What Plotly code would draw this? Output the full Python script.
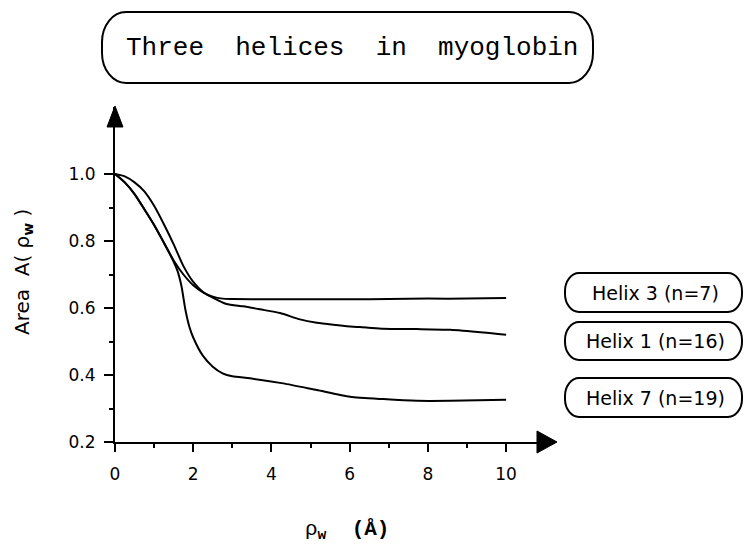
import plotly.graph_objects as go

# Normalised area A(rho_w) against probe radius rho_w (Angstrom)
helix1_x = [0, 0.25, 0.5, 0.75, 1.0, 1.25, 1.5, 1.75, 2.0, 2.25, 2.5, 2.85, 3.28,
            3.71, 4.22, 4.73, 5.16, 5.58, 6.01, 6.43, 6.86, 7.72, 8.57, 9.42, 10.0]
helix1_y = [1.0, 0.993, 0.975, 0.948, 0.905, 0.85, 0.79, 0.725, 0.678, 0.648, 0.631,
            0.612, 0.605, 0.596, 0.585, 0.566, 0.556, 0.55, 0.545, 0.542, 0.538,
            0.537, 0.535, 0.527, 0.52]

helix3_x = [0, 0.25, 0.5, 0.75, 1.0, 1.25, 1.5, 1.75, 2.0, 2.25, 2.5, 2.75, 3.0,
            4.0, 5.0, 6.0, 7.0, 8.0, 9.0, 10.0]
helix3_y = [1.0, 0.975, 0.94, 0.895, 0.848, 0.795, 0.742, 0.7, 0.668, 0.647, 0.634,
            0.628, 0.627, 0.626, 0.626, 0.626, 0.627, 0.628, 0.628, 0.63]

helix7_x = [0, 0.25, 0.5, 0.75, 1.0, 1.25, 1.5, 1.6, 1.7, 1.8, 1.9, 2.0, 2.25, 2.5,
            2.75, 3.0, 3.45, 4.3, 5.16, 6.01, 6.86, 7.72, 8.57, 10.0]
helix7_y = [1.0, 0.975, 0.94, 0.895, 0.848, 0.795, 0.738, 0.71, 0.665, 0.595, 0.545,
            0.512, 0.457, 0.425, 0.405, 0.396, 0.39, 0.375, 0.355, 0.335, 0.328,
            0.323, 0.323, 0.326]

series_labels = ["Helix 3 (n=7)", "Helix 1 (n=16)", "Helix 7 (n=19)"]

x_ticks = [0, 2, 4, 6, 8, 10]
x_minor = [1, 3, 5, 7, 9]
y_ticks = [0.2, 0.4, 0.6, 0.8, 1.0]
y_tick_text = ["0.2", "0.4", "0.6", "0.8", "1.0"]
y_minor = [0.3, 0.5, 0.7, 0.9]

title_text = "Three\u00a0\u00a0helices\u00a0\u00a0in\u00a0\u00a0myoglobin"

# Page geometry (pixels) of the plotting area
W_PAGE, H_PAGE = 744, 547
L, R, T, B = 115, 555, 107, 442
PW, PH = R - L, B - T


def to_paper(px, py):
    return (px - L) / PW, (B - py) / PH


def path_from_px(cmds):
    out = []
    for cmd, pts in cmds:
        s = cmd
        if pts:
            s += " ".join("%.5f,%.5f" % to_paper(*p) for p in pts)
        out.append(s)
    return " ".join(out)


def rounded_box(x0, y0, x1, y1, rx, ry):
    k = 0.5523
    return path_from_px([
        ("M", [(x0 + rx, y0)]),
        ("L", [(x1 - rx, y0)]),
        ("C", [(x1 - rx + k * rx, y0), (x1, y0 + ry - k * ry), (x1, y0 + ry)]),
        ("L", [(x1, y1 - ry)]),
        ("C", [(x1, y1 - ry + k * ry), (x1 - rx + k * rx, y1), (x1 - rx, y1)]),
        ("L", [(x0 + rx, y1)]),
        ("C", [(x0 + rx - k * rx, y1), (x0, y1 - ry + k * ry), (x0, y1 - ry)]),
        ("L", [(x0, y0 + ry)]),
        ("C", [(x0, y0 + ry - k * ry), (x0 + rx - k * rx, y0), (x0 + rx, y0)]),
        ("Z", []),
    ])


fig = go.Figure()
line_style = dict(color="black", width=2, shape="spline", smoothing=0.6)
for xs, ys, name in [(helix3_x, helix3_y, series_labels[0]),
                     (helix1_x, helix1_y, series_labels[1]),
                     (helix7_x, helix7_y, series_labels[2])]:
    fig.add_trace(go.Scatter(x=xs, y=ys, mode="lines", line=line_style,
                             name=name, showlegend=False, cliponaxis=False))

shapes = []
box_line = dict(color="black", width=2)
# title frame
shapes.append(dict(type="path", xref="paper", yref="paper",
                   path=rounded_box(102, 12, 593, 83, 24, 30), line=box_line))
# series label frames
label_boxes = [(273, 312), (322, 360), (378, 417)]
for (y0, y1) in label_boxes:
    shapes.append(dict(type="path", xref="paper", yref="paper",
                       path=rounded_box(565, y0, 742, y1, 14, 18), line=box_line))
# arrowheads at the axis ends
shapes.append(dict(type="path", xref="paper", yref="paper",
                   path=path_from_px([("M", [(L, T - 1)]), ("L", [(L - 8, T + 20)]),
                                      ("L", [(L + 8, T + 20)]), ("Z", [])]),
                   fillcolor="black", line=dict(color="black", width=1)))
shapes.append(dict(type="path", xref="paper", yref="paper",
                   path=path_from_px([("M", [(R + 2, B)]), ("L", [(R - 18, B - 11)]),
                                      ("L", [(R - 18, B + 11)]), ("Z", [])]),
                   fillcolor="black", line=dict(color="black", width=1)))

sans = "DejaVu Sans"
annotations = []
tx, ty = to_paper(352, 48)
annotations.append(dict(x=tx, y=ty, xref="paper", yref="paper", text=title_text,
                        showarrow=False, xanchor="center", yanchor="middle",
                        font=dict(family="Liberation Mono", size=26, color="black")))
for (y0, y1), lab in zip(label_boxes, series_labels):
    lx, ly = to_paper(655, (y0 + y1) / 2)
    annotations.append(dict(x=lx, y=ly, xref="paper", yref="paper", text=lab,
                            showarrow=False, xanchor="center", yanchor="middle",
                            font=dict(family=sans, size=19, color="black")))
ax_, ay_ = to_paper(23, 272)
annotations.append(dict(x=ax_, y=ay_, xref="paper", yref="paper",
                        text="Area\u00a0\u00a0A(\u00a0\u03c1<sub><b>w</b></sub>\u00a0)",
                        textangle=-90, showarrow=False, xanchor="center", yanchor="middle",
                        font=dict(family=sans, size=20, color="black")))
bx, by = to_paper(347, 530)
annotations.append(dict(x=bx, y=by, xref="paper", yref="paper",
                        text="\u03c1<sub><b>w</b></sub>\u00a0\u00a0<b>(\u00c5)</b>",
                        showarrow=False, xanchor="center", yanchor="middle",
                        font=dict(family="Liberation Mono", size=21, color="black")))

tick_font = dict(family=sans, size=17, color="black")
fig.update_layout(
    width=W_PAGE, height=H_PAGE,
    margin=dict(l=L, r=W_PAGE - R, t=T, b=H_PAGE - B, pad=0),
    paper_bgcolor="white", plot_bgcolor="white",
    shapes=shapes, annotations=annotations,
    xaxis=dict(range=[0, 11.25], showgrid=False, zeroline=False,
               showline=True, linecolor="black", linewidth=2,
               ticks="outside", tickvals=x_ticks, ticktext=[str(v) for v in x_ticks],
               ticklen=8, tickwidth=2, tickcolor="black", tickfont=tick_font,
               ticklabelstandoff=8,
               minor=dict(tickvals=x_minor, ticks="outside", ticklen=4,
                          tickwidth=2, tickcolor="black")),
    yaxis=dict(range=[0.2, 1.2], showgrid=False, zeroline=False,
               showline=True, linecolor="black", linewidth=2,
               ticks="outside", tickvals=y_ticks, ticktext=y_tick_text,
               ticklen=9, tickwidth=2, tickcolor="black", tickfont=tick_font,
               ticklabelstandoff=5,
               minor=dict(tickvals=y_minor, ticks="outside", ticklen=4,
                          tickwidth=2, tickcolor="black")),
)

fig.write_html("out.html")
